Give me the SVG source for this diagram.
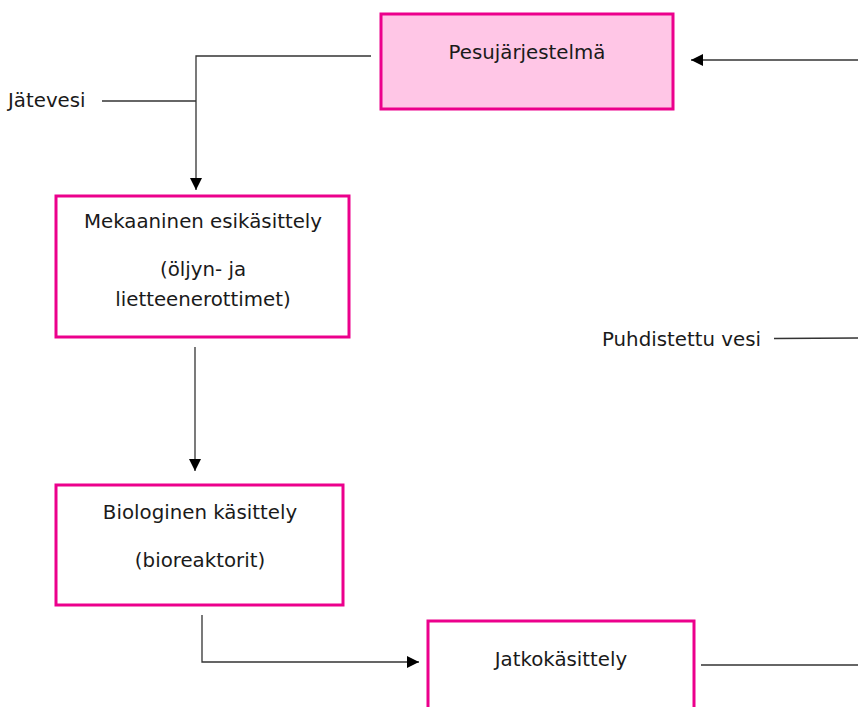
<svg xmlns="http://www.w3.org/2000/svg" width="858" height="707" viewBox="0 0 858 707">
<defs>
<marker id="ah" markerWidth="12" markerHeight="12" refX="12" refY="6" orient="auto" markerUnits="userSpaceOnUse">
<path d="M0,0 L12,6 L0,12 Z" fill="#000"/>
</marker>
<style>
.box{fill:#fff;stroke:#EC008C;stroke-width:3}
.pink{fill:#FFC6E6}
.t{font-family:"DejaVu Sans","Liberation Sans",sans-serif;font-size:19.8px;fill:#1a1a1a}
.c{text-anchor:middle}
.ln{fill:none;stroke:#333;stroke-width:1.3}
.arr{marker-end:url(#ah)}
</style>
</defs>
<rect width="858" height="707" fill="#fff"/>
<g id="connectors">
<polyline class="ln arr" points="371,56 196,56 196,190"/>
<line class="ln" x1="102" y1="101" x2="196" y2="101"/>
<line class="ln arr" x1="858" y1="60" x2="691" y2="60"/>
<line class="ln arr" x1="195" y1="347" x2="195" y2="471"/>
<polyline class="ln arr" points="202,615 202,662 419,662"/>
<line class="ln" x1="701" y1="665" x2="858" y2="665"/>
<line class="ln" x1="774" y1="338.5" x2="858" y2="338"/>
</g>
<g id="pesu">
<rect class="box pink" x="381" y="14" width="292" height="95"/>
<text class="t c" x="527" y="59">Pesujärjestelmä</text>
</g>
<g id="mekaaninen">
<rect class="box" x="56" y="196" width="293" height="141"/>
<text class="t c" x="203" y="228">Mekaaninen esikäsittely</text>
<text class="t c" x="203" y="276">(öljyn- ja</text>
<text class="t c" x="203" y="306">lietteenerottimet)</text>
</g>
<g id="biologinen">
<rect class="box" x="56" y="485" width="287" height="120"/>
<text class="t c" x="200" y="519">Biologinen käsittely</text>
<text class="t c" x="200" y="567">(bioreaktorit)</text>
</g>
<g id="jatko">
<rect class="box" x="428" y="621" width="266" height="100"/>
<text class="t c" x="561" y="666">Jatkokäsittely</text>
</g>
<g id="jatevesi">
<text class="t" x="8" y="107">Jätevesi</text>
</g>
<g id="puhdistettu">
<text class="t" x="602" y="346">Puhdistettu vesi</text>
</g>
</svg>
